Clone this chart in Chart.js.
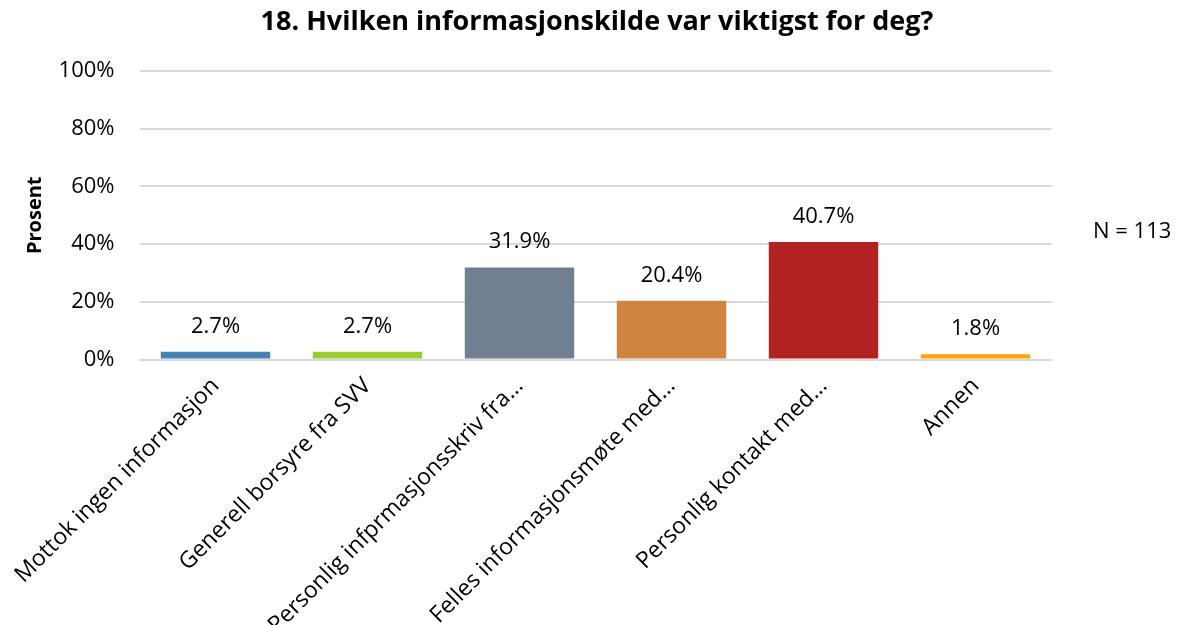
<!DOCTYPE html>
<html>
<head>
<meta charset="utf-8">
<script src="https://cdn.jsdelivr.net/npm/chart.js@4/dist/chart.umd.min.js"></script>
<style>
  html, body { margin: 0; padding: 0; background: #fff; }
  #wrap { width: 1183px; height: 625px; }
</style>
</head>
<body>
<div id="wrap"><canvas id="chart"></canvas></div>
<script>
// Data
const categories = [
    'Mottok ingen informasjon',
    'Generell borsyre fra SVV',
    'Personlig infprmasjonsskriv fra…',
    'Felles informasjonsmøte med…',
    'Personlig kontakt med…',
    'Annen'
];
const percentages = [2.7, 2.7, 31.9, 20.4, 40.7, 1.8];
const barColors = ['#4682B4', '#9ACD32', '#708090', '#CD853F', '#B22222', '#FFA500'];
const yTicks = [0, 20, 40, 60, 80, 100];
const titleText = '18. Hvilken informasjonskilde var viktigst for deg?';
const yTitle = 'Prosent';
const noteText = 'N = 113';

const FONT = "'Open Sans', sans-serif";

// title (centred on the whole picture), value labels above bars, N note
const extras = {
    id: 'extras',
    afterDatasetsDraw(chart) {
        const ctx = chart.ctx;
        const meta = chart.getDatasetMeta(0);
        ctx.save();
        ctx.fillStyle = '#000';

        ctx.font = 'bold 27px ' + FONT;
        ctx.textAlign = 'center';
        ctx.textBaseline = 'middle';
        ctx.fillText(titleText, 597, 22);

        ctx.font = '22px ' + FONT;
        ctx.textBaseline = 'alphabetic';
        meta.data.forEach((bar, i) => {
            ctx.fillText(percentages[i].toFixed(1) + '%', bar.x, bar.y - 19);
        });

        ctx.textAlign = 'left';
        ctx.textBaseline = 'middle';
        ctx.fillText(noteText, 1093, chart.scales.y.getPixelForValue(40) - 12);
        ctx.restore();
    }
};

new Chart(document.getElementById('chart'), {
    type: 'bar',
    data: {
        labels: categories,
        datasets: [{
            data: percentages,
            backgroundColor: barColors,
            borderWidth: 0,
            barPercentage: 0.72,
            categoryPercentage: 1
        }]
    },
    options: {
        responsive: true,
        maintainAspectRatio: false,
        animation: false,
        layout: { padding: { left: 0, right: 131.5, top: 71, bottom: 0 } },
        plugins: {
            legend: { display: false },
            tooltip: { enabled: false },
            title: { display: false }
        },
        scales: {
            x: {
                grid: { display: false, drawTicks: false },
                border: { color: '#D9D9D9', width: 2 },
                ticks: {
                    color: '#000',
                    font: { family: FONT, size: 23 },
                    minRotation: 45,
                    maxRotation: 45,
                    autoSkip: false,
                    padding: 13
                },
                afterFit(scale) {
                    scale.height = 265.5;
                    scale.paddingLeft = 0;
                    scale.paddingRight = 0;
                }
            },
            y: {
                min: 0,
                max: 100,
                afterBuildTicks(scale) { scale.ticks = yTicks.map(v => ({ value: v })); },
                grid: { color: '#D9D9D9', lineWidth: 2, drawTicks: false },
                border: { display: false },
                ticks: {
                    color: '#000',
                    font: { family: FONT, size: 22 },
                    padding: 25,
                    callback: v => v + '%'
                },
                title: {
                    display: true,
                    text: yTitle,
                    color: '#000',
                    font: { family: FONT, size: 20, weight: 'bold' },
                    padding: { top: 23, bottom: 0 }
                },
                afterFit(scale) { scale.width = 139.5; }
            }
        }
    },
    plugins: [extras]
});
</script>
</body>
</html>
